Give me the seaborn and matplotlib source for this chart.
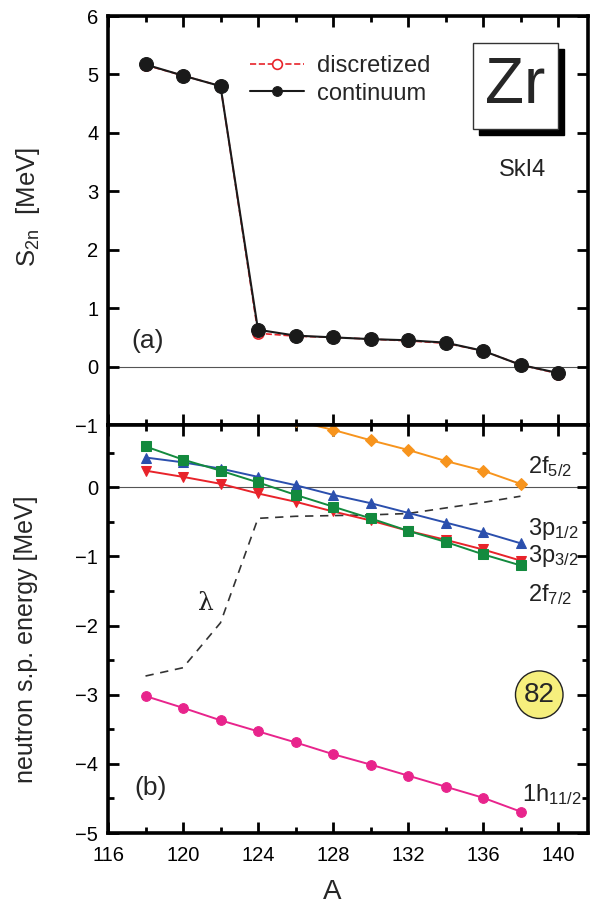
import numpy as np
import pandas as pd
import matplotlib

matplotlib.use("Agg")
import matplotlib.pyplot as plt
import seaborn as sns
from matplotlib.patches import Rectangle
from matplotlib.ticker import MultipleLocator

# --- data ---
A_s2n = [118, 120, 122, 124, 126, 128, 130, 132, 134, 136, 138, 140]
s2n_continuum = [5.17, 4.98, 4.80, 0.63, 0.53, 0.50, 0.47, 0.45, 0.41, 0.27, 0.03, -0.11]
s2n_discretized = [5.16, 4.98, 4.80, 0.57, 0.52, 0.50, 0.47, 0.44, 0.40, 0.27, 0.03, -0.12]

A_sp = [118, 120, 122, 124, 126, 128, 130, 132, 134, 136, 138]
e_2f72 = [0.59, 0.40, 0.24, 0.07, -0.11, -0.28, -0.45, -0.63, -0.79, -0.97, -1.13]
e_3p12 = [0.43, 0.36, 0.27, 0.15, 0.03, -0.11, -0.23, -0.37, -0.51, -0.65, -0.81]
e_3p32 = [0.24, 0.15, 0.05, -0.09, -0.21, -0.35, -0.48, -0.63, -0.76, -0.90, -1.06]
e_1h112 = [-3.02, -3.19, -3.37, -3.53, -3.69, -3.86, -4.01, -4.17, -4.33, -4.49, -4.69]
A_2f52 = [126, 128, 130, 132, 134, 136, 138]
e_2f52 = [0.96, 0.83, 0.68, 0.54, 0.38, 0.24, 0.05]
lam = [-2.73, -2.61, -1.96, -0.45, -0.42, -0.41, -0.40, -0.38, -0.30, -0.22, -0.13]

sns.set_theme(style="ticks")
plt.rcParams["font.family"] = ["Liberation Sans", "DejaVu Sans"]
plt.rcParams["mathtext.fontset"] = "custom"
plt.rcParams["mathtext.rm"] = "Liberation Sans"
plt.rcParams["mathtext.default"] = "regular"

fig = plt.figure(figsize=(5.9, 9.05), dpi=100)
L, R = 108 / 590, 588 / 590
ax1 = fig.add_axes([L, 1 - 425 / 905, R - L, (425 - 16) / 905])
ax2 = fig.add_axes([L, 1 - 833 / 905, R - L, (833 - 425) / 905], sharex=ax1)


def style(ax):
    for s in ax.spines.values():
        s.set_linewidth(2.6)
        s.set_color("black")
    ax.tick_params(which="both", direction="in", top=True, right=True,
                   width=2, labelsize=14.5, colors="black")
    ax.tick_params(which="major", length=8, pad=7)
    ax.tick_params(which="minor", length=4.5)
    ax.axhline(0, color="#555555", lw=0.8, zorder=0)


# --- panel (a): S2n ---
df_a = pd.DataFrame({"A": A_s2n, "cont": s2n_continuum, "disc": s2n_discretized})
sns.lineplot(data=df_a, x="A", y="disc", ax=ax1, color="#e8232a", lw=1.2, ls="--",
             marker="o", markersize=8, markerfacecolor="white",
             markeredgecolor="#e8232a", markeredgewidth=1.2, label="discretized")
sns.lineplot(data=df_a, x="A", y="cont", ax=ax1, color="#1a1a1a", lw=1.5,
             marker="o", markersize=10, markerfacecolor="#1a1a1a",
             markeredgecolor="#1a1a1a", label="continuum")
style(ax1)
ax1.set_xlim(116, 141.6)
ax1.set_ylim(-1, 6)
ax1.xaxis.set_major_locator(MultipleLocator(4))
ax1.xaxis.set_minor_locator(MultipleLocator(2))
ax1.yaxis.set_major_locator(MultipleLocator(1))
ax1.tick_params(axis="x", labelbottom=False)
ax1.set_xlabel("")
ax1.set_ylabel(r"S$_{2n}$  [MeV]", fontsize=18.5, va="center")
ax1.yaxis.set_label_coords(-0.167, 0.533)

leg = ax1.legend(loc="upper left", bbox_to_anchor=(0.296, 0.905), frameon=False,
                 fontsize=17, handlelength=2.3, handletextpad=0.55,
                 labelspacing=0.25, borderpad=0, borderaxespad=0)
for h in leg.legend_handles:
    h.set_markersize(7)

ax1.text(118.1, 0.43, "(a)", fontsize=19, ha="center", va="center")
ax1.text(138.1, 3.36, "SkI4", fontsize=17, ha="center", va="center", color="#222222")

bx, by, bw, bh = 0.760, 0.724, 0.1775, 0.210
ax1.add_patch(Rectangle((bx + 0.0125, by - 0.0147), bw, bh, transform=ax1.transAxes,
                        facecolor="black", edgecolor="black", zorder=5))
ax1.add_patch(Rectangle((bx, by), bw, bh, transform=ax1.transAxes,
                        facecolor="white", edgecolor="#333333", lw=1, zorder=6))
ax1.text(bx + bw / 2, by + bh / 2, "Zr", transform=ax1.transAxes, fontsize=46,
         ha="center", va="center", zorder=7)

# --- panel (b): single-particle energies ---
df_b = pd.DataFrame({"A": A_sp, "2f72": e_2f72, "3p12": e_3p12, "3p32": e_3p32,
                     "1h112": e_1h112, "lam": lam})
df_f = pd.DataFrame({"A": A_2f52, "2f52": e_2f52})

sns.lineplot(data=df_b, x="A", y="lam", ax=ax2, color="#333333", lw=1.2,
             ls=(0, (5, 4)), legend=False)
sns.lineplot(data=df_f, x="A", y="2f52", ax=ax2, color="#f7941d", lw=1.4, marker="D",
             markersize=6, markerfacecolor="#f7941d", markeredgecolor="#f7941d")
sns.lineplot(data=df_b, x="A", y="3p32", ax=ax2, color="#e8232a", lw=1.4, marker="v",
             markersize=7, markerfacecolor="#e8232a", markeredgecolor="#e8232a")
sns.lineplot(data=df_b, x="A", y="3p12", ax=ax2, color="#2b4fad", lw=1.4, marker="^",
             markersize=7, markerfacecolor="#2b4fad", markeredgecolor="#2b4fad")
sns.lineplot(data=df_b, x="A", y="2f72", ax=ax2, color="#138a3e", lw=1.4, marker="s",
             markersize=6.5, markerfacecolor="#138a3e", markeredgecolor="#138a3e")
sns.lineplot(data=df_b, x="A", y="1h112", ax=ax2, color="#e8248c", lw=1.4, marker="o",
             markersize=7, markerfacecolor="#e8248c", markeredgecolor="#e8248c")
style(ax2)
ax2.set_ylim(-5, 0.9)
ax2.set_xticks([116, 120, 124, 128, 132, 136, 140])
ax2.xaxis.set_minor_locator(MultipleLocator(2))
ax2.yaxis.set_major_locator(MultipleLocator(1))
ax2.yaxis.set_minor_locator(MultipleLocator(0.5))
ax2.tick_params(axis="x", pad=9)
ax2.set_xlabel("A", fontsize=20, va="center")
ax2.xaxis.set_label_coords(0.467, -0.145)
ax2.set_ylabel("neutron s.p. energy [MeV]", fontsize=18, va="center")
ax2.yaxis.set_label_coords(-0.17, 0.475)

lab_kw = dict(fontsize=17, ha="left", va="center", color="#222222")
ax2.text(138.4, 0.30, r"2f$_{5/2}$", **lab_kw)
ax2.text(138.4, -0.60, r"3p$_{1/2}$", **lab_kw)
ax2.text(138.4, -1.00, r"3p$_{3/2}$", **lab_kw)
ax2.text(138.4, -1.55, r"2f$_{7/2}$", **lab_kw)
ax2.text(138.1, -4.44, r"1h$_{11/2}$", **lab_kw)
ax2.text(121.2, -1.68, r"$\lambda$", fontsize=18, ha="center", va="center",
         family="DejaVu Serif", color="#222222")
ax2.text(118.25, -4.35, "(b)", fontsize=19, ha="center", va="center")

ax2.text(139.0, -3.0, "82", fontsize=20, ha="center", va="center", zorder=6,
         bbox=dict(boxstyle="circle,pad=0.3", facecolor="#f6ef7d",
                   edgecolor="#222222", lw=1))

fig.savefig("out.png", dpi=100)
